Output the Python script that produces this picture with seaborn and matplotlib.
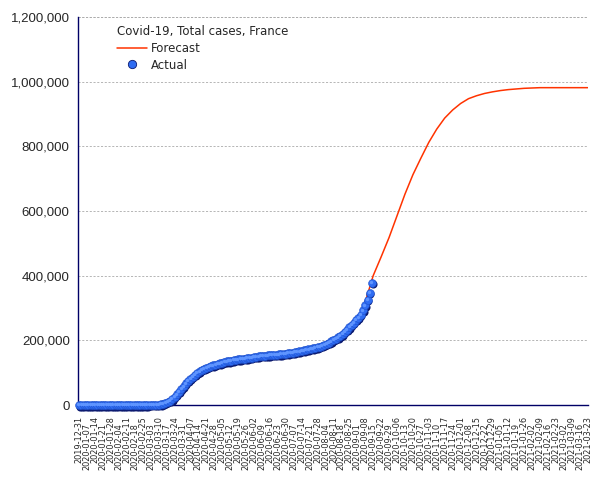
import pandas as pd
import numpy as np
import matplotlib
matplotlib.use("Agg")
import matplotlib.pyplot as plt
from matplotlib.lines import Line2D
from matplotlib.ticker import FuncFormatter
from matplotlib.transforms import ScaledTranslation
import seaborn as sns

# actual total cases, one reading every 2 days from 2019-12-31
actual_start = "2019-12-31"
actual_cases = [0] * 31 + [
    100, 300, 500, 900, 1600, 2600, 4500, 7000, 10000, 14000,
    18000, 25000, 33000, 41000, 50000, 58000, 67000, 75000, 82000, 88000,
    94000, 99000, 104000, 109000, 112000, 115000, 118000, 121000, 123000, 125000,
    127000, 129000, 131000, 133000, 135000, 136000, 137500, 139000, 140000, 141000,
    142000, 143000, 144000, 145000, 146000, 147000, 148500, 149500, 150500, 151500,
    152000, 153000, 153500, 154000, 155000, 155500, 156000, 157000, 157500, 158500,
    159500, 160500, 161500, 162500, 163500, 165000, 166000, 167500, 169000, 170500,
    172000, 173500, 175500, 177500, 179000, 181000, 183500, 186000, 189500, 193000,
    197000, 201000, 205000, 209000, 214000, 219000, 226000, 233000, 241000, 248000,
    255000, 263000, 270000, 280000, 293000, 308000, 325000, 348000, 378000,
]

# forecast, weekly from 2020-09-08
forecast_start = "2020-09-08"
forecast_cases = [
    318000, 400000, 458000, 518000, 585000, 652000, 712000, 763000, 812000, 853000,
    887000, 912000, 932000, 947000, 956000, 963000, 968000, 972000, 975000, 977000,
    979000, 980000, 981000, 981000, 981000, 981000, 981000, 981000, 981000,
]

tick_start = "2019-12-31"
tick_end = "2021-03-23"

actual = pd.DataFrame({
    "date": pd.date_range(actual_start, periods=len(actual_cases), freq="2D"),
    "cases": actual_cases,
})
forecast = pd.DataFrame({
    "date": pd.date_range(forecast_start, periods=len(forecast_cases), freq="7D"),
    "cases": forecast_cases,
})
ticks = pd.date_range(tick_start, tick_end, freq="7D")

sns.set_style("white")
plt.rcParams["font.family"] = ["DejaVu Sans"]

navy = "#000066"
blue = "#2f6cf2"
fig = plt.figure(figsize=(6.05, 4.8), dpi=100)
ax = fig.add_axes([0.129, 0.156, 0.843, 0.809])

sns.lineplot(data=forecast, x="date", y="cases", ax=ax, color="#ff3300", lw=1.1, zorder=2)

# dark lower shadow, then the blue balls on top, then a small highlight
sns.scatterplot(data=actual, x="date", y="cases", ax=ax, s=34, color="#0b1a70",
                linewidth=0, zorder=3, clip_on=False)
ax.collections[-1].set_offset_transform(
    ax.transData + ScaledTranslation(0.006, -0.014, fig.dpi_scale_trans))
sns.scatterplot(data=actual, x="date", y="cases", ax=ax, s=32, color=blue,
                edgecolor="#1d4fc8", linewidth=0.4, zorder=4, clip_on=False)
sns.scatterplot(data=actual, x="date", y="cases", ax=ax, s=6, color="#5f95ff",
                linewidth=0, zorder=5, clip_on=False)
ax.collections[-1].set_offset_transform(
    ax.transData + ScaledTranslation(-0.008, 0.008, fig.dpi_scale_trans))

ax.set_xlim(pd.Timestamp(tick_start) - pd.Timedelta(days=1), pd.Timestamp(tick_end) + pd.Timedelta(days=0.3))
ax.set_ylim(0, 1200000)
ax.set_yticks(np.arange(0, 1200001, 200000))
ax.yaxis.set_major_formatter(FuncFormatter(lambda v, p: f"{int(v):,}"))
ax.set_xticks(ticks)
ax.set_xticklabels([t.strftime("%Y-%m-%d") for t in ticks], rotation=90, fontsize=5.9)
for lab in ax.get_yticklabels():
    lab.set_family("Liberation Sans")
    lab.set_fontsize(9.5)

ax.set_xlabel("")
ax.set_ylabel("")
for i, t in enumerate(ax.xaxis.get_major_ticks()):
    t.set_pad(3 if i % 2 == 0 else 8)

ax.tick_params(axis="x", direction="out", length=5, width=0.9, color=navy)
ax.tick_params(axis="y", direction="out", length=4, width=0.9, color=navy, pad=2)
for side in ["top", "right"]:
    ax.spines[side].set_visible(False)
for side in ["left", "bottom"]:
    ax.spines[side].set_color(navy)
    ax.spines[side].set_linewidth(1.0)

grid_kw = dict(color="#aaaaaa", linestyle=(0, (2.5, 2)), linewidth=0.6)
ax.yaxis.grid(True, **grid_kw)
ax.set_axisbelow(True)
# top grid line at 1,200,000
ax.axhline(1200000, clip_on=False, zorder=0, **grid_kw)

handles = [
    Line2D([], [], color="#ff3300", lw=1.1),
    Line2D([], [], marker="o", ls="", markersize=6, markerfacecolor=blue,
           markeredgecolor="#0b1a70", markeredgewidth=0.6),
]
leg = ax.legend(handles, ["Forecast", "Actual"], title="Covid-19, Total cases, France",
                loc="upper left", bbox_to_anchor=(0.055, 1.005), frameon=False,
                fontsize=8.5, title_fontsize=8.5, alignment="left",
                handlelength=2.6, handletextpad=0.3, labelspacing=0.3)

plt.savefig("out.png", dpi=100)
